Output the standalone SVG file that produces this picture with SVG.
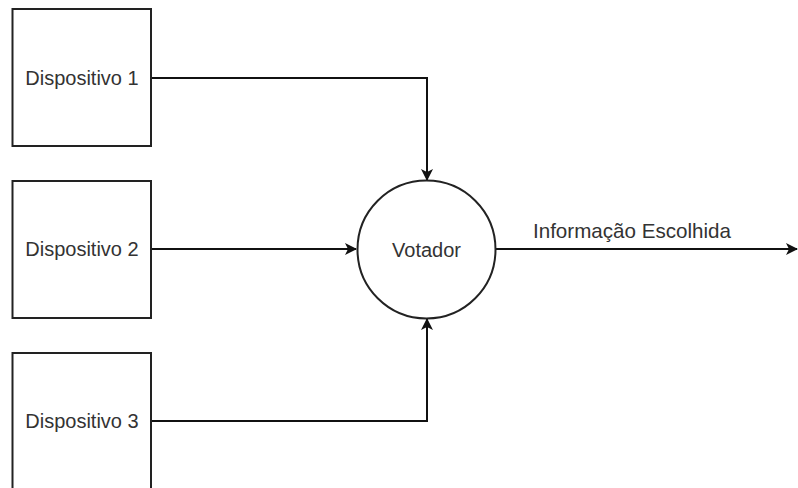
<svg xmlns="http://www.w3.org/2000/svg" width="798" height="488" viewBox="0 0 798 488">
<style>
.box{fill:#fff;stroke:#222;stroke-width:2}
.lbl{font-family:"Liberation Sans",Arial,sans-serif;font-size:20px;fill:#333}
.edge{fill:none;stroke:#111;stroke-width:2}
</style>
<defs>
<marker id="arr" viewBox="0 0 12 12" refX="11" refY="6" markerWidth="12" markerHeight="12" markerUnits="userSpaceOnUse" orient="auto">
<path d="M0,0 L12,6 L0,12 L3,6 Z" fill="#111"/>
</marker>
</defs>
<rect width="798" height="488" fill="#fff"/>
<g id="edges">
<path class="edge" d="M151,78 H427 V180" marker-end="url(#arr)"/>
<path class="edge" d="M151,249 H356" marker-end="url(#arr)"/>
<path class="edge" d="M151,421 H427 V319" marker-end="url(#arr)"/>
<path class="edge" d="M496,249 H797" marker-end="url(#arr)"/>
<text class="lbl" x="632" y="238" text-anchor="middle" style="font-size:20.6px">Informação Escolhida</text>
</g>
<g id="d1">
<rect class="box" x="12.5" y="9" width="138.5" height="137"/>
<text class="lbl" x="82" y="85" text-anchor="middle">Dispositivo 1</text>
</g>
<g id="d2">
<rect class="box" x="12.5" y="181" width="138.5" height="137"/>
<text class="lbl" x="82" y="256" text-anchor="middle">Dispositivo 2</text>
</g>
<g id="d3">
<rect class="box" x="12.5" y="353" width="138.5" height="137"/>
<text class="lbl" x="82" y="428" text-anchor="middle">Dispositivo 3</text>
</g>
<g id="votador">
<circle class="box" cx="426.5" cy="249.5" r="69"/>
<text class="lbl" x="426.5" y="256.5" text-anchor="middle">Votador</text>
</g>
</svg>
